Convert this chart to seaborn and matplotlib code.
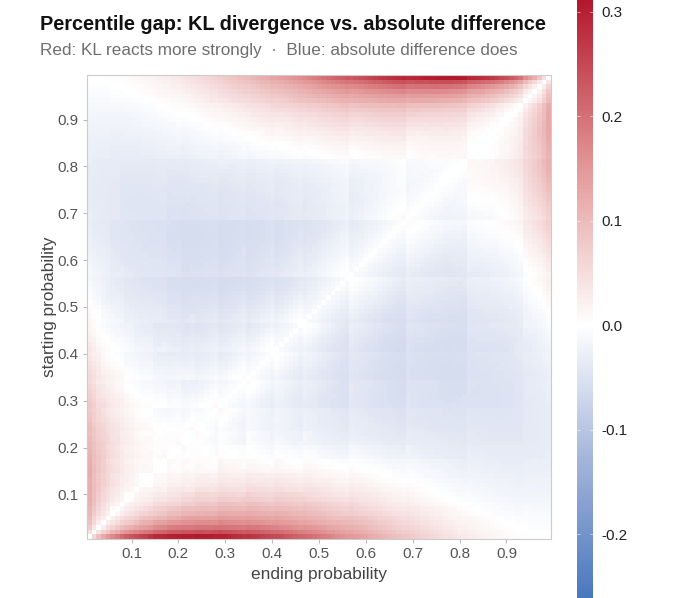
import numpy as np
import pandas as pd
import matplotlib
matplotlib.use("Agg")
import matplotlib.pyplot as plt
import seaborn as sns
from matplotlib.colors import LinearSegmentedColormap, Normalize

# grid of probabilities (0.01 .. 0.99)
start_probs = [round(0.01 * i, 2) for i in range(1, 100)]
end_probs = [round(0.01 * i, 2) for i in range(1, 100)]
x_ticks = [0.1, 0.2, 0.3, 0.4, 0.5, 0.6, 0.7, 0.8, 0.9]
y_ticks = [0.1, 0.2, 0.3, 0.4, 0.5, 0.6, 0.7, 0.8, 0.9]
cbar_ticks = [-0.2, -0.1, 0.0, 0.1, 0.2, 0.3]
vmin, vmax = -0.261, 0.311

sns.set_theme(style="white")
plt.rcParams['font.family'] = ['Liberation Sans', 'DejaVu Sans']

P, Q = np.meshgrid(np.array(start_probs), np.array(end_probs), indexing="ij")
kl = Q * np.log(Q / P) + (1 - Q) * np.log((1 - Q) / (1 - P))
ad = np.abs(P - Q)
df = pd.DataFrame({"start": P.ravel(), "end": Q.ravel(), "kl": kl.ravel(), "ad": ad.ravel()})
df["gap"] = df["kl"].rank(pct=True) - df["ad"].rank(pct=True)
grid = df.pivot(index="start", columns="end", values="gap").sort_index(ascending=False)

mid = (0 - vmin) / (vmax - vmin)
cmap = LinearSegmentedColormap.from_list(
    "rb", [(0.0, "#4a78bd"), (mid * 0.5, "#a3b4da"), (mid, "#ffffff"),
           (mid + (1 - mid) * 0.5, "#e29595"), (1.0, "#b2182b")])
norm = Normalize(vmin=vmin, vmax=vmax)

fig = plt.figure(figsize=(6.8, 5.98), dpi=100)
ax = fig.add_axes([87 / 680, 59 / 598, 464 / 680, 464 / 598])
cax = fig.add_axes([577 / 680, 0.0, 16 / 680, 1.0])

sns.heatmap(grid, ax=ax, cmap=cmap, norm=norm, cbar=True, cbar_ax=cax,
            xticklabels=False, yticklabels=False)

xpos = [(v - end_probs[0]) / 0.01 + 0.5 for v in x_ticks]
ypos = [(start_probs[-1] - v) / 0.01 + 0.5 for v in y_ticks]
ax.set_xticks(xpos)
ax.set_xticklabels([f"{v:.1f}" for v in x_ticks])
ax.set_yticks(ypos)
ax.set_yticklabels([f"{v:.1f}" for v in y_ticks], rotation=0)
ax.tick_params(axis="both", which="both", length=3, width=0.8, color="#bbbbbb",
               labelsize=11, labelcolor="#555555", pad=3, bottom=True, left=True)
for s in ax.spines.values():
    s.set_visible(True)
    s.set_color("#cccccc")
    s.set_linewidth(0.8)
ax.set_xlabel("ending probability", fontsize=12.4, color="#444444", labelpad=4)
ax.set_ylabel("starting probability", fontsize=12.4, color="#444444", labelpad=0.5)

fig.text(40 / 680, 1 - 24 / 598, "Percentile gap: KL divergence vs. absolute difference",
         fontsize=14.3, fontweight="bold", color="#111111", va="center", ha="left")
fig.text(40 / 680, 1 - 50 / 598, "Red: KL reacts more strongly  \u00b7  Blue: absolute difference does",
         fontsize=12.3, color="#6e6e6e", va="center", ha="left")

cb = ax.collections[0].colorbar
cb.set_ticks(cbar_ticks)
cb.set_ticklabels([f"{v:.1f}" for v in cbar_ticks])
cax.tick_params(labelsize=11, labelcolor="#222222", length=0, pad=6)
cb.outline.set_visible(False)
for t in cbar_ticks:
    cax.axhline(t, xmin=0, xmax=0.2, color="white", lw=0.6, alpha=0.6)
    cax.axhline(t, xmin=0.8, xmax=1, color="white", lw=0.6, alpha=0.6)

fig.savefig("out.png", dpi=100)
